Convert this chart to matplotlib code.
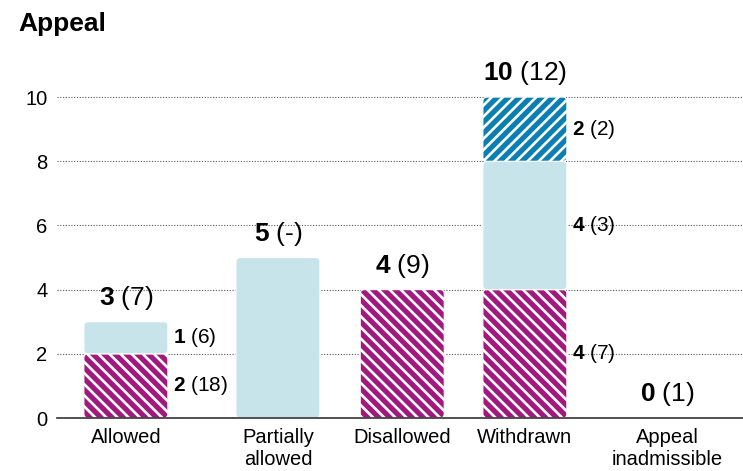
import matplotlib.pyplot as plt
from matplotlib.patches import FancyBboxPatch

plt.rcParams['font.family'] = ['Liberation Sans', 'DejaVu Sans']
plt.rcParams['mathtext.fontset'] = 'custom'
plt.rcParams['mathtext.rm'] = 'Liberation Sans'
plt.rcParams['mathtext.bf'] = 'Liberation Sans:bold'
plt.rcParams['hatch.linewidth'] = 1.9

# data
categories = ['Allowed', 'Partially\nallowed', 'Disallowed', 'Withdrawn', 'Appeal\ninadmissible']
magenta_vals = [2, 0, 4, 4, 0]
light_vals = [1, 5, 0, 4, 0]
blue_vals = [0, 0, 0, 2, 0]
magenta_prev = ['18', '', '', '7', '']
light_prev = ['6', '', '', '3', '']
blue_prev = ['', '', '', '2', '']
totals = [3, 5, 4, 10, 0]
totals_prev = ['7', '-', '9', '12', '1']
# which bars get side labels (single-segment bars only show the total)
side_labels = [True, False, False, True, False]

# layout
xpos = [0.82, 2.63, 4.11, 5.57, 7.27]
bar_w = 1.0

MAGENTA = '#a1197e'
LIGHT = '#c8e4eb'
BLUE = '#0b7fb1'

fig = plt.figure(figsize=(7.43, 4.71), dpi=100)
ax = fig.add_axes([57 / 743, 53 / 471, 686 / 743, 353 / 471])
ax.set_xlim(0, 686 / 84)
ax.set_ylim(0, 11)

# px per data unit: x 84, y 32.1
aspect = 84 / 32.1


def rbar(x, bottom, height, color, hatch=None):
    if height <= 0:
        return
    p = FancyBboxPatch((x - bar_w / 2, bottom), bar_w, height,
                       boxstyle='round,pad=0,rounding_size=0.05',
                       mutation_aspect=aspect,
                       facecolor=color, edgecolor='white', linewidth=0.8,
                       hatch=hatch, zorder=2)
    ax.add_patch(p)


def side_label(x, y, val, prev):
    ax.annotate(r'$\mathbf{%d}$ (%s)' % (val, prev), xy=(x + bar_w / 2, y),
                xytext=(4, 0), textcoords='offset points',
                ha='left', va='center', fontsize=15, color='#000000')


for i in range(len(categories)):
    x = xpos[i]
    b = 0
    rbar(x, b, magenta_vals[i], MAGENTA, '\\\\\\')
    if side_labels[i] and magenta_vals[i]:
        side_label(x, b + magenta_vals[i] / 2, magenta_vals[i], magenta_prev[i])
    b += magenta_vals[i]
    rbar(x, b, light_vals[i], LIGHT)
    if side_labels[i] and light_vals[i]:
        side_label(x, b + light_vals[i] / 2, light_vals[i], light_prev[i])
    b += light_vals[i]
    rbar(x, b, blue_vals[i], BLUE, '///')
    if side_labels[i] and blue_vals[i]:
        side_label(x, b + blue_vals[i] / 2, blue_vals[i], blue_prev[i])
    b += blue_vals[i]
    ax.annotate(r'$\mathbf{%d}$ (%s)' % (totals[i], totals_prev[i]), xy=(x, totals[i]),
                xytext=(0, 17), textcoords='offset points',
                ha='center', va='center', fontsize=19, color='#000000',
                annotation_clip=False)

ax.set_xticks(xpos)
ax.set_xticklabels(categories, fontsize=14.5, linespacing=1.2)
ax.set_yticks(range(0, 11, 2))
ax.tick_params(axis='y', length=0, pad=7, labelsize=14.5)
ax.tick_params(axis='x', length=0, pad=7)
ax.yaxis.grid(True, linestyle=(0, (1, 1.5)), color='#555555', linewidth=0.8, zorder=0)
ax.set_axisbelow(True)
for s in ['top', 'right', 'left']:
    ax.spines[s].set_visible(False)
ax.spines['bottom'].set_color('#333333')
ax.spines['bottom'].set_linewidth(1.2)
ax.spines['bottom'].set_zorder(3)

fig.text(18 / 743, 1 - 24 / 471, 'Appeal', fontsize=19, fontweight='bold',
         va='center', ha='left')

fig.savefig('out.png', dpi=100)
